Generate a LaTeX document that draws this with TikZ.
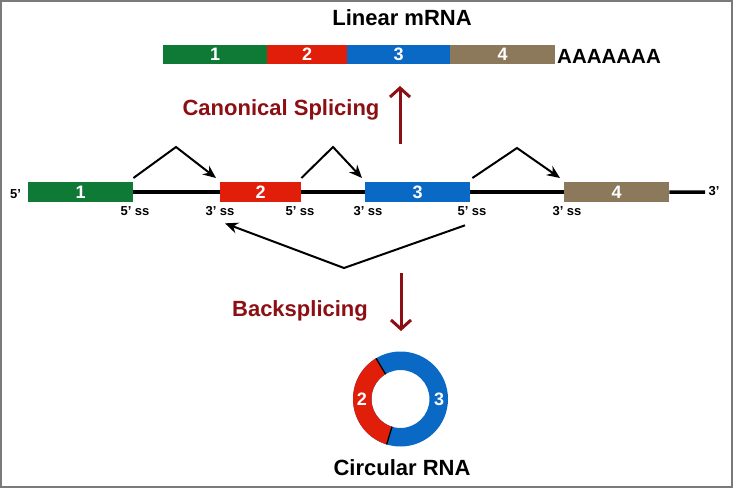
\documentclass[tikz,border=0pt]{standalone}
\usepackage{fontspec}
\setmainfont{Liberation Sans}
\usetikzlibrary{arrows.meta,calc}
\definecolor{exgreen}{HTML}{0F7A36}
\definecolor{exred}{HTML}{E01E0A}
\definecolor{exblue}{HTML}{0A69C4}
\definecolor{exbrown}{HTML}{8C785A}
\definecolor{darkred}{HTML}{8C0F14}
\definecolor{framegray}{HTML}{7A7A7A}
\begin{document}
\begin{tikzpicture}[x=1pt,y=-1pt,
  exon/.style={inner sep=0pt, minimum height=20pt, text=white, anchor=north west,
    font=\fontsize{18}{18}\selectfont\bfseries},
  mexon/.style={exon, minimum height=19pt},
  title/.style={anchor=base, font=\fontsize{22}{22}\selectfont\bfseries},
  redtitle/.style={title, text=darkred},
  sslabel/.style={anchor=base, inner sep=0pt, font=\fontsize{13}{13}\selectfont\bfseries},
  endlabel/.style={anchor=base, inner sep=0pt, font=\fontsize{13}{13}\selectfont\bfseries},
  intron/.style={line width=3.5pt},
  splicearrow/.style={line width=2pt, -{Stealth[length=13pt,width=11pt]}},
  bigarrow/.style={darkred, line width=3pt, -{Straight Barb[length=9pt,width=20pt,line width=3pt]}},
  ringlabel/.style={text=white, font=\fontsize{18}{18}\selectfont\bfseries}
]
\useasboundingbox (0,0) rectangle (733,488);
\draw[framegray, line width=2pt] (1,1) rectangle (732,487);

% linear mRNA
\node[title] (lin) at (402,25) {Linear mRNA};
\node[mexon, fill=exgreen, minimum width=104pt] (m1) at (163,45) {1};
\node[mexon, fill=exred, minimum width=80pt] (m2) at (267,45) {2};
\node[mexon, fill=exblue, minimum width=103pt] (m3) at (347,45) {3};
\node[mexon, fill=exbrown, minimum width=105pt] (m4) at (450,45) {4};
\node[anchor=base west, inner sep=0pt, font=\fontsize{20.5}{20.5}\selectfont\bfseries] (polyA) at (557,63) {AAAAAAA};

\node[redtitle] (canon) at (281,115) {Canonical Splicing};
\coordinate (upfrom) at (400,144);
\coordinate (upto) at (400,86);
\draw[bigarrow] (upfrom) -- (upto);

% pre-mRNA
\node[exon, fill=exgreen, minimum width=105pt] (e1) at (28,182) {1};
\node[exon, fill=exred, minimum width=81pt] (e2) at (220,182) {2};
\node[exon, fill=exblue, minimum width=105pt] (e3) at (365,182) {3};
\node[exon, fill=exbrown, minimum width=105pt] (e4) at (564,182) {4};
\coordinate (lend) at (705,192);
\draw[intron] (e1.east) -- (e2.west);
\draw[intron] (e2.east) -- (e3.west);
\draw[intron] (e3.east) -- (e4.west);
\draw[intron] (e4.east) -- (lend);

\node[endlabel] (five) at (15.5,198) {5’};
\node[endlabel] (three) at (714,195) {3’};

\node[sslabel] (ss1) at (135,215) {5’ ss};
\node[sslabel] (ss2) at (220,215) {3’ ss};
\node[sslabel] (ss3) at (300,215) {5’ ss};
\node[sslabel] (ss4) at (368,215) {3’ ss};
\node[sslabel] (ss5) at (472,215) {5’ ss};
\node[sslabel] (ss6) at (567,215) {3’ ss};

% canonical splice arcs
\coordinate (a1) at (176,147);
\coordinate (a2) at (333,147);
\coordinate (a3) at (517,148);
\draw[splicearrow] ($(e1.north east)+(0,-4)$) -- (a1) -- ($(e2.north west)+(-4,-4)$);
\draw[splicearrow] ($(e2.north east)+(0,-4)$) -- (a2) -- ($(e3.north west)+(-3,-4)$);
\draw[splicearrow] ($(e3.north east)+(2,-4)$) -- (a3) -- ($(e4.north west)+(-4,-4)$);

% backsplice
\coordinate (bapex) at (344,268);
\draw[splicearrow] ($(ss5.south)+(-7,10)$) -- (bapex) -- ($(ss2.south)+(5,8)$);

\node[redtitle] (back) at (300,316) {Backsplicing};
\coordinate (downfrom) at (401,273);
\coordinate (downto) at (401,331);
\draw[bigarrow] (downfrom) -- (downto);

% circular RNA
\fill[exblue, even odd rule] (400.5,399) circle[radius=47.5pt] (400.5,399) circle[radius=29pt];
\fill[exred] plot[domain=121:253, samples=50] ({400.5+47.5*cos(\x)},{399-47.5*sin(\x)})
  -- plot[domain=253:121, samples=50] ({400.5+29*cos(\x)},{399-29*sin(\x)}) -- cycle;
\draw[black, line width=1.3pt] ({400.5+29*cos(121)},{399-29*sin(121)}) -- ({400.5+47.5*cos(121)},{399-47.5*sin(121)});
\draw[black, line width=1.3pt] ({400.5+29*cos(253)},{399-29*sin(253)}) -- ({400.5+47.5*cos(253)},{399-47.5*sin(253)});
\node[ringlabel] (r2) at (362,399) {2};
\node[ringlabel] (r3) at (439,399) {3};

\node[title] (circ) at (402,475) {Circular RNA};
\end{tikzpicture}
\end{document}
